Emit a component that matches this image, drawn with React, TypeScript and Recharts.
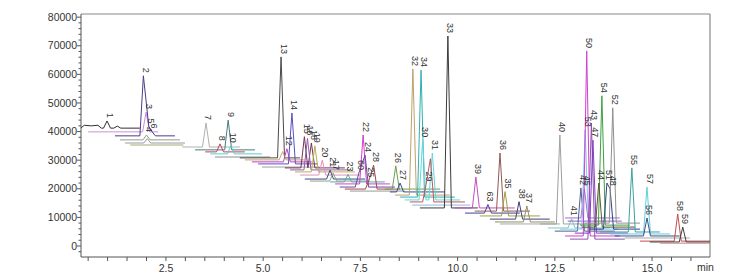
import React from 'react';
import { ComposedChart, Line, Scatter, XAxis, YAxis, ReferenceLine } from 'recharts';

// Each chromatogram trace: colour, start / end time (min), baseline intensity
const traceColors = [
  '#2f2f2f', '#c98fd6', '#4b3b8f', '#8fa088', '#9a9a9a', '#a8a878',
  '#b0b0b0', '#4a7c7c', '#c04060', '#50d0d0', '#909090',
  '#4a4a4a', '#c8a070', '#c040c0', '#5a50c0', '#a0a0a0',
  '#7a3050', '#8a60b0', '#b8b050', '#e090c0', '#3a4a80', '#90a090',
  '#50b0a0', '#d040d0', '#6a4a9a', '#a04848', '#999999',
  '#6aa050', '#3a4a90', '#c0a068', '#30b0b0', '#60d8e0', '#c05858', '#90b8d8', '#3c3c3c',
  '#c050c0', '#40409a', '#905858', '#a0a040', '#404080', '#909060', '#a8a8a8',
  '#a0a0a0', '#80c8c0', '#a070c8', '#9060d0', '#506088', '#80c8f0', '#d040d0', '#9050b0',
  '#8040c0', '#40a040', '#605830', '#304088', '#909090',
  '#40a0a0', '#60d0e0', '#405088', '#aaaaaa', '#c05050', '#404040', '#c08080',
];
const traceStart = [
  0.32, 0.5, 1.19, 1.32, 1.45, 1.58,
  2.92, 3.25, 3.51, 3.64, 3.76,
  4.4, 4.53, 4.71, 4.87, 4.97,
  5.56, 5.69, 5.82, 5.95, 6.07, 6.2,
  6.72, 6.85, 6.97, 7.1, 7.23,
  8.13, 8.26, 8.39, 8.52, 8.64, 8.77, 8.83, 9.03,
  9.93, 10.19, 10.44, 10.57, 10.83, 10.96, 11.09,
  12.12, 12.32, 12.76, 12.83, 12.5, 12.63, 12.76, 12.89,
  13.01, 13.15, 13.2, 13.4, 13.27,
  13.66, 13.91, 14.04, 14.3, 14.69, 14.94, 15.2,
];
const traceEnd = [
  1.83, 2.3, 2.73, 2.86, 2.99, 2.95,
  4.4, 4.79, 4.53, 4.97, 5.18,
  5.95, 6.07, 6.25, 6.41, 6.46,
  7.1, 7.23, 7.36, 7.49, 7.62, 7.74,
  8.13, 8.26, 8.39, 8.52, 8.64,
  9.55, 9.67, 9.8, 9.93, 10.06, 10.19, 10.32, 10.52,
  11.47, 11.6, 11.86, 12.12, 12.37, 12.5, 12.63,
  13.66, 13.91, 14.17, 14.22, 14.04, 14.12, 14.17, 14.3,
  14.38, 14.43, 14.56, 14.69, 14.69,
  15.2, 15.46, 15.71, 15.97, 16.49, 16.49, 16.49,
];
const traceBase = [
  41200, 39900, 38500, 37100, 36000, 35300,
  34600, 33600, 32900, 32200, 31100,
  30800, 30100, 29400, 28700, 27600,
  27300, 26600, 25900, 24800, 23400, 22700,
  22400, 21700, 20600, 19900, 19200,
  19900, 18900, 17800, 17100, 16100, 15400, 14300, 13300,
  13300, 11500, 12200, 10500, 9400, 8400, 7700,
  7700, 6300, 9800, 8700, 5200, 5900, 3500, 2400,
  4500, 7300, 6600, 5900, 8000,
  4900, 4200, 3500, 2800, 1700, 1400, 1000,
];

// Peaks: trace index, retention time (min), apex intensity, label
const peakTrace = [
  0, 0, 0, 0, 0,
  1, 2, 2, 2, 3, 4,
  6, 7, 8, 9,
  11, 12, 13, 14,
  16, 17, 16, 18, 19, 20, 21,
  22, 23, 24, 24, 25, 25,
  27, 28, 29, 30, 31, 31, 32, 32, 34,
  35, 36, 37, 38, 39, 40,
  42, 43, 46, 44, 47, 48, 49, 50, 52, 51, 53, 53, 54,
  55, 56, 57, 59, 60,
];
const peakTime = [
  0.4, 0.58, 0.75, 0.985, 1.25,
  1.99, 1.92, 2.06, 2.14, 2.0, 2.02,
  3.53, 4.1, 3.89, 4.17,
  5.46, 5.5, 5.61, 5.74,
  6.06, 6.14, 6.24, 6.33, 6.52, 6.72, 6.8,
  7.18, 7.57, 7.62, 7.46, 7.72, 7.84,
  8.41, 8.52, 8.85, 9.06, 9.1, 9.35, 9.19, 9.3, 9.75,
  10.47, 10.78, 11.09, 11.22, 11.58, 11.78,
  12.63, 12.93, 13.17, 13.26, 13.28, 13.32, 13.44, 13.48, 13.63, 13.71, 13.84, 13.92, 13.99,
  14.48, 14.87, 14.87, 15.66, 15.79,
];
const peakHeight = [
  42200, 42000, 42200, 43700, 41900,
  46800, 59500, 41800, 40000, 38800, 37500,
  43000, 44000, 35700, 35000,
  66100, 33000, 34000, 46500,
  38200, 37600, 36000, 35000, 30000, 26500, 25500,
  25000, 38800, 31800, 25500, 23000, 28300,
  28000, 22000, 61900, 61500, 37000, 32500, 21500, 30500, 73400,
  24100, 14500, 32500, 19000, 15500, 14000,
  38800, 9500, 20300, 20000, 40600, 68200, 43000, 37000, 22000, 52500, 22000, 20000, 48300,
  27300, 20600, 9800, 11200, 6600,
];
const peakLabel = [
  '', '', '', '1', '',
  '3', '2', '5', '6', '4', '',
  '7', '9', '8', '10',
  '13', '', '12', '14',
  '15', '16', '18', '19', '20', '21', '17',
  '23', '22', '24', '60', '25', '28',
  '26', '27', '32', '34', '30', '31', '29', '', '33',
  '39', '63', '36', '35', '38', '37',
  '40', '41', '42', '45', '53', '50', '43', '47', '44', '54', '51', '48', '52',
  '55', '57', '56', '58', '59',
];

// Axis ticks
const xTicks = Array.from({ length: 32 }, (_, i) => (i + 1) * 0.5);
const xLabelled = [2.5, 5, 7.5, 10, 12.5, 15];
const yTicks = Array.from({ length: 42 }, (_, i) => -2000 + i * 2000);
const yLabelled = [0, 10000, 20000, 30000, 40000, 50000, 60000, 70000, 80000];

const HALF = 0.09;

const traceData = traceColors.map((_, i) => {
  const base = traceBase[i];
  const pk = peakTime
    .map((t, j) => ({ t, h: peakHeight[j], tr: peakTrace[j] }))
    .filter((p) => p.tr === i)
    .sort((a, b) => a.t - b.t);
  const pts: { t: number; v: number }[] = [{ t: traceStart[i], v: base }];
  pk.forEach((p, k) => {
    const prev = pk[k - 1];
    const next = pk[k + 1];
    if (!prev || p.t - prev.t >= 2 * HALF) pts.push({ t: p.t - HALF, v: base });
    pts.push({ t: p.t, v: p.h });
    if (!next || next.t - p.t >= 2 * HALF) pts.push({ t: p.t + HALF, v: base });
  });
  pts.push({ t: traceEnd[i], v: base });
  return pts;
});

const labelData = peakLabel
  .map((label, j) => ({ t: peakTime[j], v: peakHeight[j], label }))
  .filter((d) => d.label !== '');

const FONT = 'Liberation Sans, Arial, sans-serif';

const YTick = (props: any) => {
  const { x, y, payload } = props;
  const major = yLabelled.includes(payload.value);
  return (
    <g>
      <line x1={x - (major ? 4 : 2.5)} x2={x} y1={y} y2={y} stroke="#555" strokeWidth={1} />
      {major && (
        <text x={x - 4} y={y} dy="0.35em" textAnchor="end" fontSize={10.5} fontFamily={FONT} fill="#333">
          {payload.value}
        </text>
      )}
    </g>
  );
};

const XTick = (props: any) => {
  const { x, y, payload } = props;
  const major = xLabelled.includes(payload.value);
  return (
    <g>
      <line x1={x} x2={x} y1={y} y2={y + 4} stroke="#555" strokeWidth={1} />
      {major && (
        <text x={x} y={y + 15} textAnchor="middle" fontSize={10.5} fontFamily={FONT} fill="#333">
          {payload.value.toFixed(1)}
        </text>
      )}
    </g>
  );
};

const PeakLabel = (props: any) => {
  const { cx, cy, payload } = props;
  if (cx == null || cy == null) return <g />;
  const ax = cx - 0.5;
  const ay = cy - 3;
  return (
    <text
      x={ax}
      y={ay}
      transform={`rotate(90 ${ax} ${ay})`}
      textAnchor="end"
      fontSize={9}
      fontFamily={FONT}
      fill="#333"
    >
      {payload.label}
    </text>
  );
};

export default function App() {
  return (
    <div style={{ position: 'absolute', left: 0, top: 0, width: 756, height: 275, background: '#fff' }}>
      <ComposedChart width={756} height={275} margin={{ top: 14, right: 46, bottom: 0, left: 0 }}>
        <XAxis
          dataKey="t"
          type="number"
          domain={[0.316, 16.49]}
          allowDataOverflow
          ticks={xTicks}
          interval={0}
          tickSize={0}
          tickMargin={0}
          tickLine={false}
          tick={<XTick />}
          height={18}
          axisLine={{ stroke: '#555' }}
        />
        <YAxis
          type="number"
          domain={[-3850, 81100]}
          allowDataOverflow
          ticks={yTicks}
          interval={0}
          tickSize={0}
          tickMargin={0}
          tickLine={false}
          tick={<YTick />}
          width={81}
          axisLine={{ stroke: '#555' }}
        />
        <ReferenceLine y={81100} stroke="#888" strokeWidth={1.2} />
        <ReferenceLine x={16.49} stroke="#888" strokeWidth={1.2} />
        {traceData.map((d, i) => (
          <Line
            key={i}
            data={d}
            dataKey="v"
            type="linear"
            stroke={traceColors[i]}
            strokeWidth={1}
            dot={false}
            activeDot={false}
            isAnimationActive={false}
          />
        ))}
        <Scatter data={labelData} dataKey="v" shape={<PeakLabel />} isAnimationActive={false} />
      </ComposedChart>
      <div
        style={{
          position: 'absolute',
          left: 697,
          top: 261,
          fontSize: 10.5,
          fontFamily: FONT,
          color: '#333',
        }}
      >
        min
      </div>
    </div>
  );
}
